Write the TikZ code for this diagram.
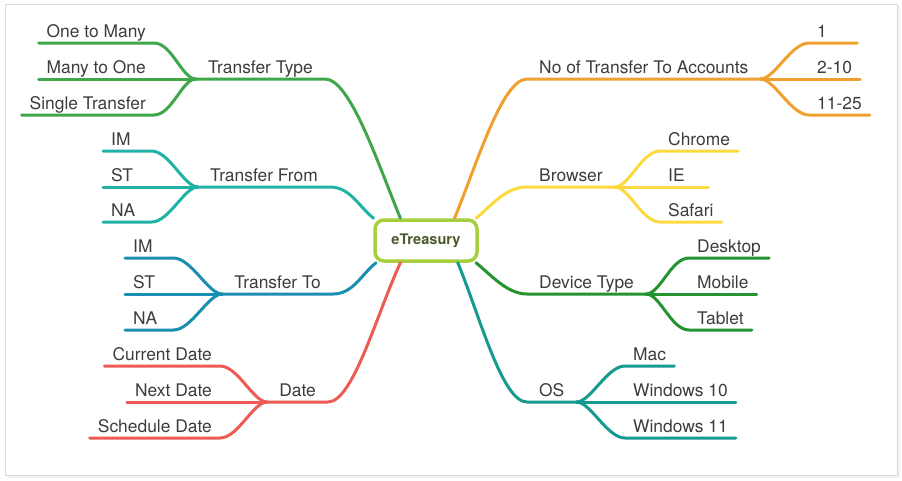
\documentclass[tikz,border=0pt]{standalone}
\usepackage{fontspec}
\setmainfont{TeX Gyre Heros}
\definecolor{ttgreen}{HTML}{3FA64A}
\definecolor{tfteal}{HTML}{20B2A6}
\definecolor{toblue}{HTML}{1B8FB2}
\definecolor{dtred}{HTML}{EE5B55}
\definecolor{acorange}{HTML}{F0A02E}
\definecolor{bryellow}{HTML}{FDD940}
\definecolor{dvgreen}{HTML}{25932F}
\definecolor{osteal}{HTML}{169A8F}
\definecolor{rootgreen}{HTML}{A6CF3E}
\definecolor{roottext}{HTML}{4A5A2C}
\definecolor{labeltext}{HTML}{3C3C3C}
\definecolor{framegray}{HTML}{DADADA}
\begin{document}
\begin{tikzpicture}[x=1pt,y=-1pt,
  branch/.style={inner xsep=12pt,inner ysep=0pt,text height=13pt,text depth=5.5pt,text=labeltext,font=\fontsize{17.4}{20}\selectfont},
  leaf/.style={branch,inner xsep=8pt},
  short/.style={text width=32pt,align=left},
  limb/.style={line width=3pt,line cap=round,line join=round}]

    \useasboundingbox (0,0) rectangle (902,480);
    %frame
    \draw [black!5,line width=2pt] (7,476.5) -- (898.5,476.5) -- (898.5,6);
    \draw [framegray,line width=1pt] (5,4) rectangle (897,475);

    %root
    \node (ET) at (426,240.5)[draw=rootgreen,line width=3.5pt,rounded corners=9pt,fill=white,minimum width=102pt,minimum height=41pt,text=roottext,font=\bfseries\fontsize{14.6}{17}\selectfont]{eTreasury};

    %main branches
    \node (TT) at (325,79)[branch,anchor=south east]{Transfer Type};
    \node (TF) at (330,187)[branch,anchor=south east]{Transfer From};
    \node (TO) at (333,294)[branch,anchor=south east]{Transfer To};
    \node (DT) at (328,402)[branch,anchor=south east]{Date};
    \node (AC) at (527,79)[branch,anchor=south west]{No of Transfer To Accounts};
    \node (BR) at (527,187)[branch,anchor=south west]{Browser};
    \node (DV) at (527,294)[branch,anchor=south west]{Device Type};
    \node (OS) at (527,402)[branch,anchor=south west]{OS};

    %left leaves
    \node (TT1) at (154,43)[leaf,anchor=south east]{One to Many};
    \node (TT2) at (154,79)[leaf,anchor=south east]{Many to One};
    \node (TT3) at (154,115)[leaf,anchor=south east]{Single Transfer};
    \node (TF1) at (103,151)[leaf,short,anchor=south west]{IM};
    \node (TF2) at (103,187)[leaf,short,anchor=south west]{ST};
    \node (TF3) at (103,222)[leaf,short,anchor=south west]{NA};
    \node (TO1) at (125,258)[leaf,short,anchor=south west]{IM};
    \node (TO2) at (125,294)[leaf,short,anchor=south west]{ST};
    \node (TO3) at (125,330)[leaf,short,anchor=south west]{NA};
    \node (DT1) at (220,366)[leaf,anchor=south east]{Current Date};
    \node (DT2) at (220,402)[leaf,anchor=south east]{Next Date};
    \node (DT3) at (220,438)[leaf,anchor=south east]{Schedule Date};

    %right leaves
    \node (AC1) at (809,43)[leaf,short,anchor=south west]{1};
    \node (AC2) at (809,79)[leaf,anchor=south west]{2-10};
    \node (AC3) at (809,115)[leaf,anchor=south west]{11-25};
    \node (BR1) at (660,151)[leaf,anchor=south west]{Chrome};
    \node (BR2) at (660,187)[leaf,short,anchor=south west]{IE};
    \node (BR3) at (660,222)[leaf,anchor=south west]{Safari};
    \node (DV1) at (689,258)[leaf,anchor=south west]{Desktop};
    \node (DV2) at (689,294)[leaf,anchor=south west]{Mobile};
    \node (DV3) at (689,330)[leaf,anchor=south west]{Tablet};
    \node (OS1) at (625,366)[leaf,anchor=south west]{Mac};
    \node (OS2) at (625,402)[leaf,anchor=south west]{Windows 10};
    \node (OS3) at (625,438)[leaf,anchor=south west]{Windows 11};

    %trunks
    \draw [limb,ttgreen] (ET.139) .. controls +(-23,-56) and +(25,0) .. (TT.south east) -- (TT.south west);
    \draw [limb,tfteal] (ET.157) .. controls +(-15,-12) and +(20,0) .. (TF.south east) -- (TF.south west);
    \draw [limb,toblue] (ET.204) .. controls +(-15,12) and +(20,0) .. (TO.south east) -- (TO.south west);
    \draw [limb,dtred] (ET.221) .. controls +(-24,52) and +(25,0) .. (DT.south east) -- (DT.south west);
    \draw [limb,acorange] (ET.38) .. controls +(22,-53) and +(-25,0) .. (AC.south west) -- (AC.south east);
    \draw [limb,bryellow] (ET.24) .. controls +(15,-12) and +(-22,0) .. (BR.south west) -- (BR.south east);
    \draw [limb,dvgreen] (ET.336) .. controls +(15,12) and +(-20,0) .. (DV.south west) -- (DV.south east);
    \draw [limb,osteal] (ET.325) .. controls +(22,53) and +(-25,0) .. (OS.south west) -- (OS.south east);

    %transfer type
    \draw [limb,ttgreen] (TT1.south west) -- (TT1.south east) .. controls +(18,0) and +(-14,0) .. (TT.south west);
    \draw [limb,ttgreen] (TT2.south west) -- (TT.south west);
    \draw [limb,ttgreen] (TT3.south west) -- (TT3.south east) .. controls +(18,0) and +(-14,0) .. (TT.south west);

    %transfer from
    \draw [limb,tfteal] (TF1.south west) -- (TF1.south east) .. controls +(18,0) and +(-14,0) .. (TF.south west);
    \draw [limb,tfteal] (TF2.south west) -- (TF.south west);
    \draw [limb,tfteal] (TF3.south west) -- (TF3.south east) .. controls +(18,0) and +(-14,0) .. (TF.south west);

    %transfer to
    \draw [limb,toblue] (TO1.south west) -- (TO1.south east) .. controls +(18,0) and +(-14,0) .. (TO.south west);
    \draw [limb,toblue] (TO2.south west) -- (TO.south west);
    \draw [limb,toblue] (TO3.south west) -- (TO3.south east) .. controls +(18,0) and +(-14,0) .. (TO.south west);

    %date
    \draw [limb,dtred] (DT1.south west) -- (DT1.south east) .. controls +(18,0) and +(-14,0) .. (DT.south west);
    \draw [limb,dtred] (DT2.south west) -- (DT.south west);
    \draw [limb,dtred] (DT3.south west) -- (DT3.south east) .. controls +(18,0) and +(-14,0) .. (DT.south west);

    %accounts
    \draw [limb,acorange] (AC.south east) .. controls +(14,0) and +(-18,0) .. (AC1.south west) -- (AC1.south east);
    \draw [limb,acorange] (AC.south east) -- (AC2.south east);
    \draw [limb,acorange] (AC.south east) .. controls +(14,0) and +(-18,0) .. (AC3.south west) -- (AC3.south east);

    %browser
    \draw [limb,bryellow] (BR.south east) .. controls +(14,0) and +(-18,0) .. (BR1.south west) -- (BR1.south east);
    \draw [limb,bryellow] (BR.south east) -- (BR2.south east);
    \draw [limb,bryellow] (BR.south east) .. controls +(14,0) and +(-18,0) .. (BR3.south west) -- (BR3.south east);

    %device type
    \draw [limb,dvgreen] (DV.south east) .. controls +(14,0) and +(-18,0) .. (DV1.south west) -- (DV1.south east);
    \draw [limb,dvgreen] (DV.south east) -- (DV2.south east);
    \draw [limb,dvgreen] (DV.south east) .. controls +(14,0) and +(-18,0) .. (DV3.south west) -- (DV3.south east);

    %os
    \draw [limb,osteal] (OS.south east) .. controls +(14,0) and +(-18,0) .. (OS1.south west) -- (OS1.south east);
    \draw [limb,osteal] (OS.south east) -- (OS2.south east);
    \draw [limb,osteal] (OS.south east) .. controls +(14,0) and +(-18,0) .. (OS3.south west) -- (OS3.south east);
  \end{tikzpicture}
\end{document}
